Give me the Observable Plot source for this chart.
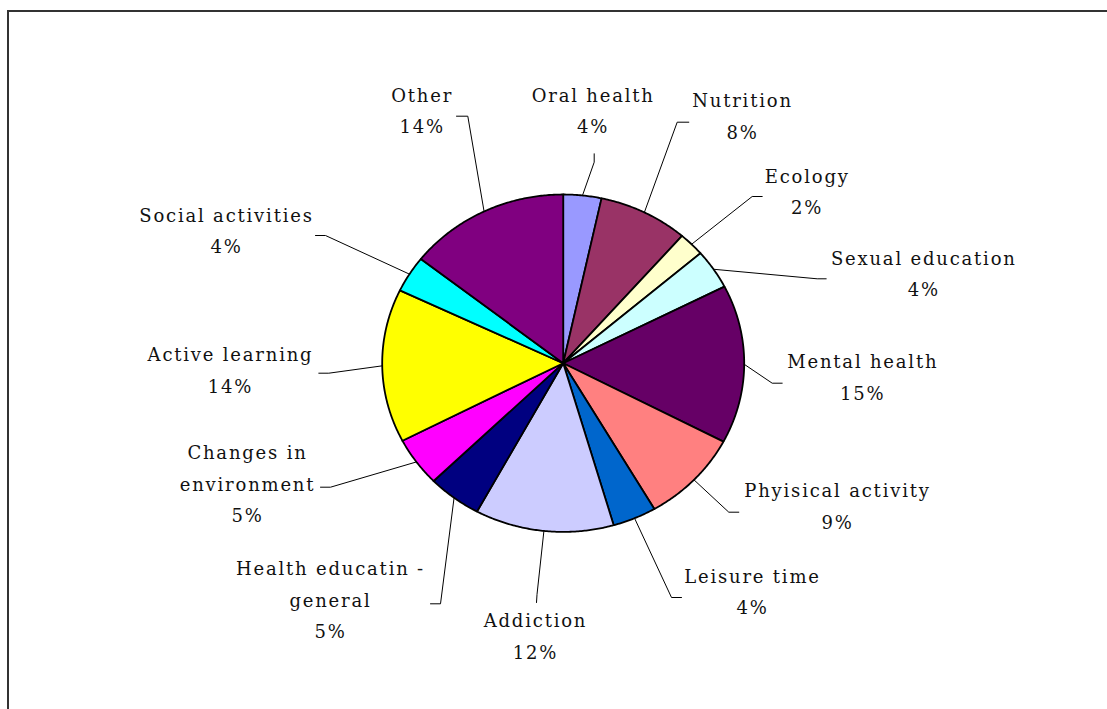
<!DOCTYPE html>
<html>
<head>
<meta charset="utf-8">
<script src="https://cdn.jsdelivr.net/npm/d3@7"></script>
<script src="https://cdn.jsdelivr.net/npm/@observablehq/plot@0.6"></script>
<style>
  html, body { margin: 0; padding: 0; background: #fff; }
  #wrap { position: relative; width: 1107px; height: 709px; overflow: hidden; }
  #frame { position: absolute; left: 7px; top: 10px; width: 1200px; height: 800px;
           border-left: 2px solid #333; border-top: 2px solid #333; box-sizing: border-box; }
  #chart { position: absolute; left: 0; top: 0; }
  #chart svg text { letter-spacing: 1.8px; }
</style>
</head>
<body>
<div id="wrap"><div id="frame"></div><div id="chart"></div></div>
<script>
// ---- data ----
const categories = ["Oral health", "Nutrition", "Ecology", "Sexual education", "Mental health",
  "Phyisical activity", "Leisure time", "Addiction", "Health educatin - general",
  "Changes in environment", "Active learning", "Social activities", "Other"];
const labelNames = ["Oral health", "Nutrition", "Ecology", "Sexual education", "Mental health",
  "Phyisical activity", "Leisure time", "Addiction", "Health educatin -\ngeneral",
  "Changes in\nenvironment", "Active learning", "Social activities", "Other"];
const shares = [3.4, 8.0, 2.3, 3.8, 15.2, 8.9, 3.9, 12.4, 4.8, 4.7, 14.7, 3.5, 14.4];
const pctLabels = ["4%", "8%", "2%", "4%", "15%", "9%", "4%", "12%", "5%", "5%", "14%", "4%", "14%"];
const colors = ["#9999FF", "#993366", "#FFFFCC", "#CCFFFF", "#660066", "#FF8080", "#0066CC",
  "#CCCCFF", "#000080", "#FF00FF", "#FFFF00", "#00FFFF", "#800080"];

// ---- layout (pixels) ----
const W = 1107, H = 709;
const CX = 562.7, CY = 362.7, RX = 181, RY = 168.7;
// label centre, leader elbow, leader stub end
const labelLayout = [
  {lx: 592.7, ly: 112,   ex: 593.7, ey: 161.7, sx: 593.7, sy: 153.3},
  {lx: 742,   ly: 117.5, ex: 676.7, ey: 121.7, sx: 688.3, sy: 121.7},
  {lx: 806.7, ly: 193,   ex: 751.7, ey: 196,   sx: 761.7, sy: 196},
  {lx: 923.3, ly: 275,   ex: 816.7, ey: 278.3, sx: 825.7, sy: 278.3},
  {lx: 862.3, ly: 378.5, ex: 771.7, ey: 382.7, sx: 781.7, sy: 382.7},
  {lx: 837,   ly: 507.5, ex: 728.3, ey: 511.7, sx: 738.3, sy: 511.7},
  {lx: 752,   ly: 593,   ex: 671,   ey: 597,   sx: 681,   sy: 597},
  {lx: 535,   ly: 637.5, ex: 536.5, ey: 594,   sx: 536,   sy: 602},
  {lx: 330,   ly: 601,   ex: 440,   ey: 603.3, sx: 430,   sy: 603.3},
  {lx: 247,   ly: 485,   ex: 330,   ey: 486.7, sx: 320,   sy: 486.7},
  {lx: 230,   ly: 371.5, ex: 328.3, ey: 372.7, sx: 318.3, sy: 372.7},
  {lx: 226,   ly: 232,   ex: 325,   ey: 235,   sx: 315,   sy: 235},
  {lx: 421.7, ly: 112,   ex: 467.3, ey: 115.7, sx: 456,   sy: 115.7}
];
const ux = px => (px - CX) / RX;
const uy = py => (CY - py) / RY;

// ---- build pie geometry from data (unit circle; scales make the ellipse) ----
const total = d3.sum(shares);
let cum = 0;
const slicePts = [];
const leaderPts = [];
const labels = [];
categories.forEach((name, i) => {
  const a0 = cum / total * 2 * Math.PI;
  cum += shares[i];
  const a1 = cum / total * 2 * Math.PI;
  slicePts.push({name, color: colors[i], x: 0, y: 0});
  const n = Math.max(4, Math.ceil((a1 - a0) / (Math.PI / 360)));
  for (let k = 0; k <= n; k++) {
    const a = a0 + (a1 - a0) * k / n;
    slicePts.push({name, color: colors[i], x: Math.sin(a), y: Math.cos(a)});
  }
  slicePts.push({name, color: colors[i], x: 0, y: 0});
  const am = (a0 + a1) / 2;
  const L = labelLayout[i];
  leaderPts.push({name, x: Math.sin(am), y: Math.cos(am)});
  leaderPts.push({name, x: ux(L.ex), y: uy(L.ey)});
  leaderPts.push({name, x: ux(L.sx), y: uy(L.sy)});
  labels.push({text: labelNames[i] + "\n" + pctLabels[i], x: ux(L.lx), y: uy(L.ly)});
});

const chart = Plot.plot({
  width: W, height: H,
  margin: 0,
  x: {domain: [ux(0), ux(W)], range: [0, W], axis: null},
  y: {domain: [uy(H), uy(0)], range: [H, 0], axis: null},
  color: {type: "identity"},
  style: {fontFamily: "'DejaVu Serif', serif", fontSize: "18px", color: "#111", background: "transparent", overflow: "visible"},
  marks: [
    Plot.line(slicePts, {x: "x", y: "y", z: "name", fill: "color", stroke: "#000",
      strokeWidth: 1.8, strokeLinejoin: "round", curve: "linear"}),
    Plot.line(leaderPts, {x: "x", y: "y", z: "name", stroke: "#000", strokeWidth: 1}),
    Plot.text(labels, {x: "x", y: "y", text: "text", fill: "#111", fontSize: 18,
      lineHeight: 1.75, textAnchor: "middle", lineAnchor: "middle", dy: -5})
  ]
});
document.getElementById("chart").appendChild(chart);
</script>
</body>
</html>
